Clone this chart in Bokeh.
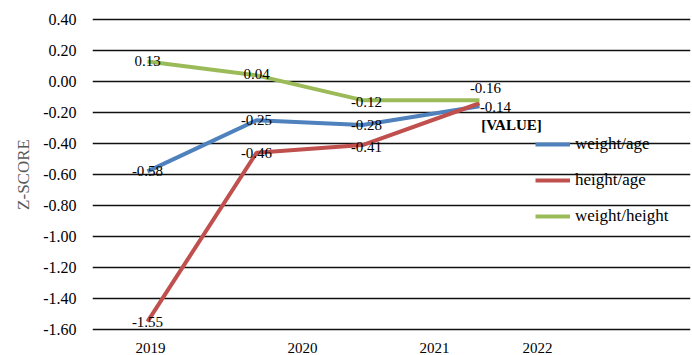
from bokeh.plotting import figure
from bokeh.models import (ColumnDataSource, FixedTicker, PrintfTickFormatter,
                          Legend, LegendItem, Range1d)
from bokeh.embed import file_html
from bokeh.resources import INLINE
from bokeh.core.properties import value

# Survey rounds along the horizontal scale and the year ticks under them
point_pos = [0.55, 1.64, 2.70, 3.87]
year_pos = [0.58, 2.10, 3.42, 4.45]
year_labels = ["2019", "2020", "2021", "2022"]

# Mean Z-scores per indicator
weight_age = [-0.58, -0.25, -0.28, -0.16]
height_age = [-1.55, -0.46, -0.41, -0.14]
weight_height = [0.13, 0.04, -0.12, -0.12]

series_names = ["weight/age", "height/age", "weight/height"]
series_values = [weight_age, height_age, weight_height]
series_colors = ["#4F81BD", "#C0504D", "#9BBB59"]

y_ticks = [round(-1.6 + 0.2 * i, 1) for i in range(11)]

SERIF = "Liberation Serif"

p = figure(width=692, height=355, output_backend="svg", toolbar_location=None,
           x_range=Range1d(0, 5.98), y_range=Range1d(-1.62, 0.42),
           min_border_left=92, min_border_right=2,
           min_border_top=16, min_border_bottom=22)
p.outline_line_color = None
p.background_fill_color = "white"
p.border_fill_color = "white"

# Axes
p.xaxis.ticker = FixedTicker(ticks=year_pos)
p.xaxis.major_label_overrides = {pos: lab for pos, lab in zip(year_pos, year_labels)}
p.yaxis.ticker = FixedTicker(ticks=y_ticks)
p.yaxis.formatter = PrintfTickFormatter(format="%.2f")
for ax in (p.xaxis[0], p.yaxis[0]):
    ax.axis_line_color = None
    ax.major_tick_line_color = None
    ax.minor_tick_line_color = None
    ax.major_label_text_font = SERIF
    ax.major_label_text_color = "black"
p.xaxis.major_label_text_font_size = "15px"
p.xaxis.major_label_standoff = 4
p.yaxis.major_label_text_font_size = "16px"
p.yaxis.major_label_standoff = 10
p.yaxis.axis_label = "Z-SCORE"
p.yaxis.axis_label_text_font = SERIF
p.yaxis.axis_label_text_font_style = "normal"
p.yaxis.axis_label_text_font_size = "17px"
p.yaxis.axis_label_text_color = "#595959"
p.yaxis.axis_label_standoff = 7

# Horizontal gridlines only span the plotting area, not the legend column
p.xgrid.grid_line_color = None
p.ygrid.grid_line_color = "#111111"
p.ygrid.grid_line_width = 1.4
p.ygrid.bounds = (0, 4.41)

# Series lines
renderers = []
for vals, col in zip(series_values, series_colors):
    r = p.line(point_pos, vals, line_color=col, line_width=4)
    renderers.append(r)

# Value labels next to each point
label_offsets = {
    "weight/age": [(0, 0), (0, 0), (4, 0), (6, -18)],
    "height/age": [(0, 0), (0, 0), (4, 2), (16, 4)],
    "weight/height": [(0, 0), (0, -1), (4, 2), (32, 25)],
}
lx, ly, lt, lox, loy, lstyle = [], [], [], [], [], []
for name, vals in zip(series_names, series_values):
    for i, v in enumerate(vals):
        lx.append(point_pos[i])
        ly.append(v)
        if name == "weight/height" and i == len(vals) - 1:
            lt.append("[VALUE]")
            lstyle.append("bold")
        else:
            lt.append("%.2f" % v)
            lstyle.append("normal")
        ox, oy = label_offsets[name][i]
        lox.append(ox)
        loy.append(oy)
labels = ColumnDataSource(dict(x=lx, y=ly, text=lt, xo=lox, yo=loy, style=lstyle))
p.text(x="x", y="y", text="text", x_offset="xo", y_offset="yo",
       text_font_style="style", source=labels,
       text_font=value(SERIF), text_font_size="15px", text_color="black",
       text_align="center", text_baseline="middle")

legend = Legend(items=[LegendItem(label=n, renderers=[r])
                       for n, r in zip(series_names, renderers)],
                location=(443, 106), orientation="vertical",
                glyph_width=35, glyph_height=20, label_height=20,
                label_standoff=5, spacing=16, padding=0, margin=0,
                border_line_color=None, background_fill_alpha=0,
                label_text_font=SERIF, label_text_font_size="17px",
                label_text_color="black")
p.add_layout(legend)

open("out.html", "w").write(file_html(p, INLINE))
